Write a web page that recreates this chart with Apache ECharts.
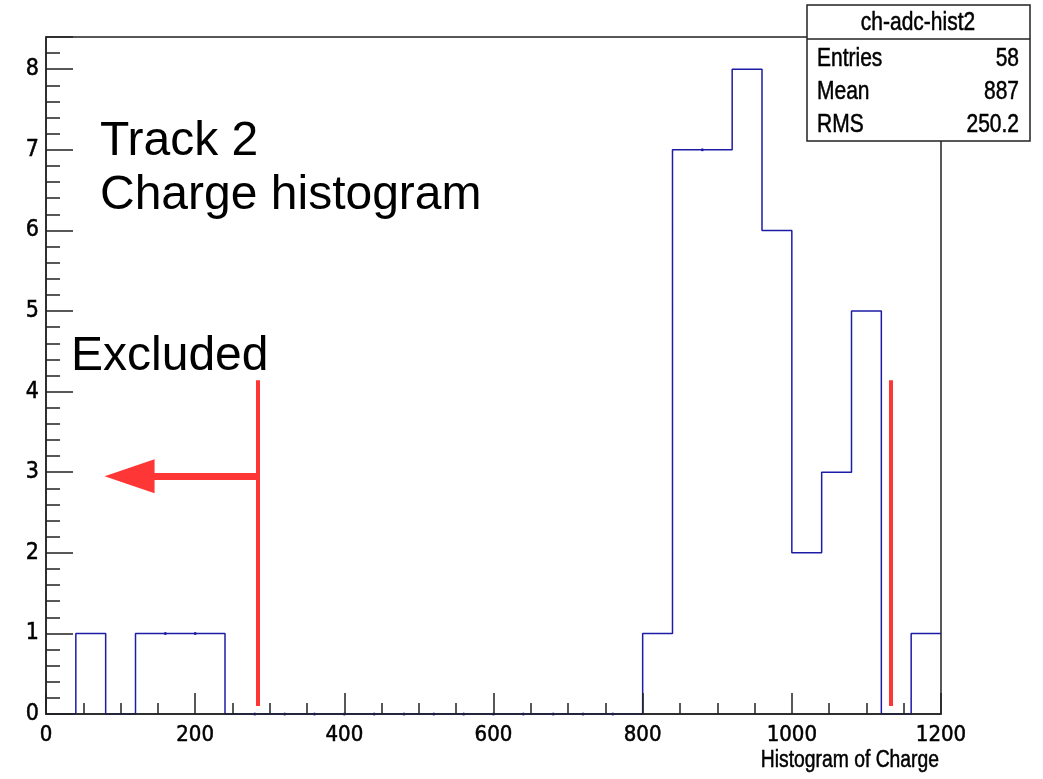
<!DOCTYPE html>
<html>
<head>
<meta charset="utf-8">
<script src="https://cdn.jsdelivr.net/npm/echarts@6/dist/echarts.min.js"></script>
<style>
  html, body { margin: 0; padding: 0; background: #fff; }
  #main { width: 1043px; height: 779px; }
</style>
</head>
<body>
<div id="main"></div>
<script>
  // bin lower edges (width 40) and bin contents
  const binEdges = [0, 40, 80, 120, 160, 200, 240, 280, 320, 360, 400, 440, 480, 520, 560,
    600, 640, 680, 720, 760, 800, 840, 880, 920, 960, 1000, 1040, 1080, 1120, 1160]
  const binUpper = 1200
  const counts = [0, 1, 0, 1, 1, 1, 0, 0, 0, 0, 0, 0, 0, 0, 0,
    0, 0, 0, 0, 0, 1, 7, 7, 8, 6, 2, 3, 5, 0, 1]
  const xTicks = [0, 200, 400, 600, 800, 1000, 1200]
  const yTicks = [0, 1, 2, 3, 4, 5, 6, 7, 8]

  // cut lines
  const cutLow = 284
  const cutHigh = 1133
  const cutRange = [0.1, 4.14]
  const arrowY = 2.95
  const arrowEnd = 112

  const statsTitle = 'ch-adc-hist2'
  const statsLabels = ['Entries', 'Mean', 'RMS']
  const statsValues = ['58', '887', '250.2']

  const narrow = "'Liberation Sans Narrow', 'DejaVu Sans Condensed', 'Liberation Sans', sans-serif"
  const sans = "'Liberation Sans', Arial, sans-serif"
  const blue = '#1c1ca6'
  const red = '#ff3636'

  // step outline points; small dot where the outline runs straight through a bin edge
  const histData = binEdges.map((x, i) => ({
    value: [x, counts[i]],
    symbolSize: (i > 0 && counts[i] === counts[i - 1]) ? 3 : 0
  }))
  histData.push({ value: [binUpper, counts[counts.length - 1]], symbolSize: 0 })

  const myChart = echarts.init(document.getElementById('main'))

  // stats box
  const smallText = (text, x, y, align) => ({
    type: 'text', x: x, y: y, scaleX: 0.84, z: 21,
    style: { text: text, font: '25px ' + sans, fill: '#000', stroke: '#000', lineWidth: 0.5,
      align: align, verticalAlign: 'middle' }
  })
  const statsEls = [
    { type: 'rect', shape: { x: 807, y: 5, width: 223, height: 136 },
      style: { fill: '#fff', stroke: '#222', lineWidth: 1.5 }, z: 20 },
    { type: 'line', shape: { x1: 807, y1: 39, x2: 1030, y2: 39 },
      style: { stroke: '#222', lineWidth: 1.5 }, z: 21 },
    smallText(statsTitle, 918, 23, 'center')
  ]
  const rowY = [59, 92, 125]
  statsLabels.forEach((lab, i) => {
    statsEls.push(smallText(lab, 817, rowY[i], 'left'))
    statsEls.push(smallText(statsValues[i], 1019, rowY[i], 'right'))
  })

  const option = {
    animation: false,
    backgroundColor: '#fff',
    grid: {
      left: 46, right: 102, top: 37, bottom: 65,
      show: true, borderColor: '#222', borderWidth: 1.5, backgroundColor: 'transparent'
    },
    xAxis: {
      type: 'value',
      min: xTicks[0],
      max: xTicks[xTicks.length - 1],
      interval: 200,
      z: 10,
      axisLine: { show: true, onZero: false, lineStyle: { color: '#222', width: 1.5 } },
      axisTick: { show: true, inside: true, length: 21, lineStyle: { color: '#222', width: 1.5 } },
      minorTick: { show: true, splitNumber: 4, length: 11, lineStyle: { color: '#222', width: 1.5 } },
      splitLine: { show: false },
      axisLabel: { color: '#000', fontSize: 22, fontFamily: narrow, margin: 10,
        textBorderColor: '#000', textBorderWidth: 0.5,
        formatter: v => xTicks.indexOf(v) >= 0 ? String(v) : '' }
    },
    yAxis: [{
      type: 'value',
      min: 0,
      max: 8.4,
      interval: 1,
      z: 10,
      axisLine: { show: true, lineStyle: { color: '#222', width: 1.5 } },
      axisTick: { show: true, inside: true, length: 27, lineStyle: { color: '#222', width: 1.5 } },
      splitLine: { show: false },
      axisLabel: { color: '#000', fontSize: 23, fontFamily: narrow, margin: 7,
        textBorderColor: '#000', textBorderWidth: 0.5,
        formatter: v => yTicks.indexOf(v) >= 0 ? String(v) : '' }
    }, {
      // minor ticks of the count axis
      type: 'value',
      position: 'left',
      min: 0,
      max: 8.4,
      interval: 0.2,
      z: 10,
      axisLine: { show: false },
      axisTick: { show: true, inside: true, length: 14, lineStyle: { color: '#222', width: 1.5 } },
      splitLine: { show: false },
      axisLabel: { show: false }
    }],
    graphic: [
      { type: 'text', x: 100, y: 142, z: 15,
        style: { text: 'Track 2', font: '48px ' + sans, fill: '#000', verticalAlign: 'middle' } },
      { type: 'text', x: 100, y: 196, z: 15,
        style: { text: 'Charge histogram', font: '48px ' + sans, fill: '#000', verticalAlign: 'middle' } },
      { type: 'text', x: 71, y: 357, z: 15,
        style: { text: 'Excluded', font: '48px ' + sans, fill: '#000', verticalAlign: 'middle' } },
      { type: 'text', x: 939, y: 761, scaleX: 0.84, z: 15,
        style: { text: 'Histogram of Charge', font: '23px ' + sans, fill: '#000', stroke: '#000', lineWidth: 0.5,
          align: 'right', verticalAlign: 'middle' } }
    ].concat(statsEls),
    series: [{
      type: 'line',
      step: 'end',
      data: histData,
      symbol: 'circle',
      showSymbol: true,
      itemStyle: { color: blue },
      lineStyle: { color: blue, width: 1.5 },
      markLine: {
        silent: true,
        symbol: ['none', 'none'],
        label: { show: false },
        lineStyle: { color: red, type: 'solid' },
        data: [
          [{ coord: [cutLow, cutRange[0]], lineStyle: { width: 4, color: red } },
           { coord: [cutLow, cutRange[1]] }],
          [{ coord: [cutHigh, cutRange[0]], lineStyle: { width: 4, color: red } },
           { coord: [cutHigh, cutRange[1]] }],
          [{ coord: [cutLow, arrowY], lineStyle: { width: 7, color: red } },
           { coord: [arrowEnd, arrowY], symbol: 'triangle', symbolSize: [34, 50] }]
        ]
      }
    }]
  }

  myChart.setOption(option)
</script>
</body>
</html>
